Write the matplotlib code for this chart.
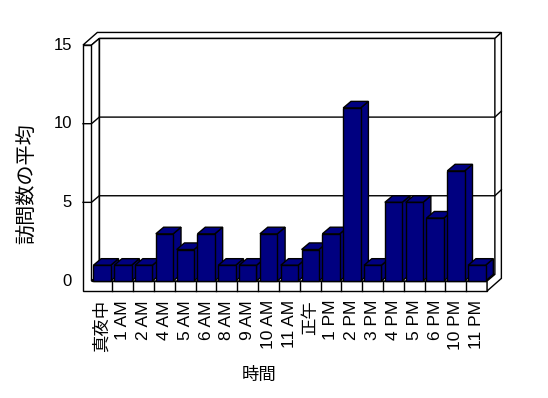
import matplotlib
matplotlib.use("Agg")
import matplotlib.pyplot as plt
from matplotlib.patches import Polygon

plt.rcParams['font.family'] = ['Liberation Sans', 'Noto Sans CJK JP']

hours = ["真夜中", "1 AM", "2 AM", "4 AM", "5 AM", "6 AM", "8 AM", "9 AM",
         "10 AM", "11 AM", "正午", "1 PM", "2 PM", "3 PM", "4 PM", "5 PM",
         "6 PM", "10 PM", "11 PM"]
visits = [1, 1, 1, 3, 2, 3, 1, 1, 3, 1, 2, 3, 11, 1, 5, 5, 4, 7, 1]
y_ticks = [0, 5, 10, 15]

navy = "#000080"
n = len(hours)
ymax = 15

# pixel layout of the front plane
W, H = 548, 398
x0_px, cat_px = 91.5, 20.82
y0_px, unit_px = 281.0, 15.73

xlim = (-1.5, 21.0)
ylim = (-2.0, 16.5)

# depth offsets in data units
ddx, ddy = 7.8 / cat_px, 6.6 / unit_px
wx, wy = 6.5 / cat_px, 6.0 / unit_px
t = 8.5 / cat_px
f = 10.0 / unit_px

fig = plt.figure(figsize=(W / 100, H / 100), dpi=100)
left = (x0_px + xlim[0] * cat_px) / W
right = (x0_px + xlim[1] * cat_px) / W
bottom = (H - (y0_px - ylim[0] * unit_px)) / H
top = (H - (y0_px - ylim[1] * unit_px)) / H
ax = fig.add_axes([left, bottom, right - left, top - bottom])
ax.set_xlim(*xlim)
ax.set_ylim(*ylim)
ax.axis("off")

lw = 1.0


def poly(pts, fc="white", z=1):
    ax.add_patch(Polygon(pts, closed=True, facecolor=fc, edgecolor="black",
                         linewidth=lw, joinstyle="miter", zorder=z))


# walls and floor
poly([(-t, -f), (n, -f), (n, 0), (0, 0), (0, ymax), (-t, ymax)])
poly([(-t, ymax), (0, ymax), (ddx, ymax + ddy), (n + ddx, ymax + ddy),
      (n + ddx + wx, ymax + ddy + wy), (-t + ddx + wx, ymax + ddy + wy)])
poly([(0, 0), (0, ymax), (ddx, ymax + ddy), (ddx, ddy)])
poly([(ddx, ddy), (n + ddx, ddy), (n + ddx, ymax + ddy), (ddx, ymax + ddy)])
poly([(0, 0), (n, 0), (n + ddx, ddy), (ddx, ddy)])
poly([(n, -f), (n, 0), (n + ddx, ddy), (n + ddx, ymax + ddy),
      (n + ddx + wx, ymax + ddy + wy), (n + ddx + wx, -f + ddy + wy)])

for i in range(1, n):
    ax.plot([i, i], [-f, 0], color="black", lw=lw, zorder=2)

for v in y_ticks[1:-1]:
    ax.plot([-t, 0, ddx, n + ddx, n + ddx + wx],
            [v, v, v + ddy, v + ddy, v + ddy + wy],
            color="black", lw=lw, zorder=2)

# bars
gap, bw = 0.09, 0.835
for i, v in enumerate(visits):
    a = i + gap
    b = a + bw
    z = 3 + i * 0.01
    poly([(b, 0), (b + ddx, ddy), (b + ddx, v + ddy), (b, v)], navy, z)
    poly([(a, v), (b, v), (b + ddx, v + ddy), (a + ddx, v + ddy)], navy, z)
    poly([(a, 0), (b, 0), (b, v), (a, v)], navy, z)

# labels
for v in y_ticks:
    ax.text(-t - 11 / cat_px, v, str(v), ha="right", va="center",
            fontsize=12)

for i, lab in enumerate(hours):
    ax.text(i + 0.5, -f - 9 / unit_px, lab, rotation=90, ha="center",
            va="top", fontsize=12.5)

fig.text(259.5 / W, 1 - 375 / H, "時間", ha="center", va="center",
         fontsize=12.5)
fig.text(27 / W, 1 - 184 / H, "訪問数の平均", ha="center", va="center",
         rotation=90, fontsize=14.5)

fig.savefig("out.png", dpi=100)
